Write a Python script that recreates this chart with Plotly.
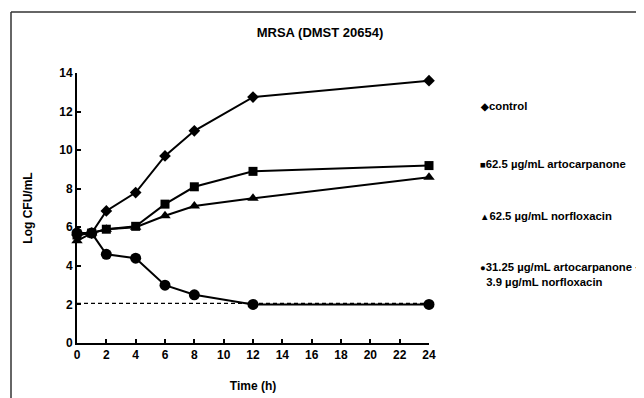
import plotly.graph_objects as go

time_h = [0, 1, 2, 4, 6, 8, 12, 24]
control = [5.6, 5.7, 6.85, 7.8, 9.7, 11.0, 12.75, 13.6]
artocarpanone = [5.6, 5.7, 5.9, 6.05, 7.2, 8.1, 8.9, 9.2]
norfloxacin = [5.3, 5.7, 5.9, 6.0, 6.6, 7.1, 7.5, 8.6]
combination = [5.7, 5.7, 4.6, 4.4, 3.0, 2.5, 2.0, 2.0]
limit_x = [0, 24]
limit_y = [2.05, 2.05]

series_names = ["control", "62.5 µg/mL artocarpanone", "62.5 µg/mL norfloxacin",
                "31.25 µg/mL artocarpanone +<br>  3.9 µg/mL norfloxacin"]
legend_glyphs = ["◆", "■", "▲", "●"]
x_ticks = list(range(0, 25, 2))
y_ticks = list(range(0, 15, 2))

OFF = 8  # page body margin
W, H = 644, 398
L, R, T, B = 77 - OFF, 644 - (429 - OFF), 73 - OFF, 398 - (343 - OFF)
pw, ph = W - L - R, H - T - B

def px_x(p):
    return (p - OFF - L) / pw

def px_y(p):
    return (H - B - (p - OFF)) / ph

fig = go.Figure()
fig.add_trace(go.Scatter(x=limit_x, y=limit_y, mode="lines",
                         line=dict(color="black", width=1.2, dash="4px,3px"), showlegend=False))
styles = [("diamond", 9), ("square", 9), ("triangle-up", 10), ("circle", 11)]
for ys, (sym, sz) in zip([control, artocarpanone, norfloxacin, combination], styles):
    fig.add_trace(go.Scatter(x=time_h, y=ys, mode="lines+markers",
                             line=dict(color="black", width=2),
                             marker=dict(symbol=sym, size=sz, color="black"),
                             showlegend=False, cliponaxis=False))

font_b = dict(family="Liberation Sans, Arial", color="black", weight="bold")
legend_y_px = [106, 164, 216, 274]
for name, glyph, yp in zip(series_names, legend_glyphs, legend_y_px):
    fig.add_annotation(x=px_x(478), y=px_y(yp), xref="paper", yref="paper",
                       text='<span style="font-size:9.5px">' + glyph + "</span>" + name,
                       showarrow=False,
                       xanchor="left", yanchor="middle", align="left",
                       font=dict(size=11.3, **font_b))

fig.add_shape(type="line", xref="paper", yref="paper",
              x0=px_x(11), x1=px_x(11), y0=px_y(12), y1=px_y(420),
              line=dict(color="#333", width=1.5))
fig.add_shape(type="line", xref="paper", yref="paper",
              x0=px_x(11), x1=px_x(660), y0=px_y(12), y1=px_y(12),
              line=dict(color="#333", width=1.5))

fig.update_layout(
    width=W, height=H, margin=dict(l=L, r=R, t=T, b=B),
    plot_bgcolor="white", paper_bgcolor="white",
    title=dict(text="MRSA (DMST 20654)", x=(320 - OFF) / W, xanchor="center",
               y=1 - (32 - OFF) / H, yanchor="middle", font=dict(size=13, **font_b)),
    xaxis=dict(range=[0, 24], tickvals=x_ticks, ticks="inside", ticklen=4,
               tickwidth=1.5, tickcolor="black", showline=True, linecolor="black",
               linewidth=2, showgrid=False, zeroline=False, automargin=False,
               tickfont=dict(size=12, **font_b),
               title=dict(text="Time (h)", font=dict(size=12, **font_b), standoff=20)),
    yaxis=dict(range=[0, 14], tickvals=y_ticks, ticks="inside", ticklen=4,
               tickwidth=1.5, tickcolor="black", showline=True, linecolor="black",
               linewidth=2, showgrid=False, zeroline=False, automargin=False,
               tickfont=dict(size=12, **font_b),
               title=dict(text="Log CFU/mL", font=dict(size=12, **font_b), standoff=24)),
)
fig.write_html("out.html")
